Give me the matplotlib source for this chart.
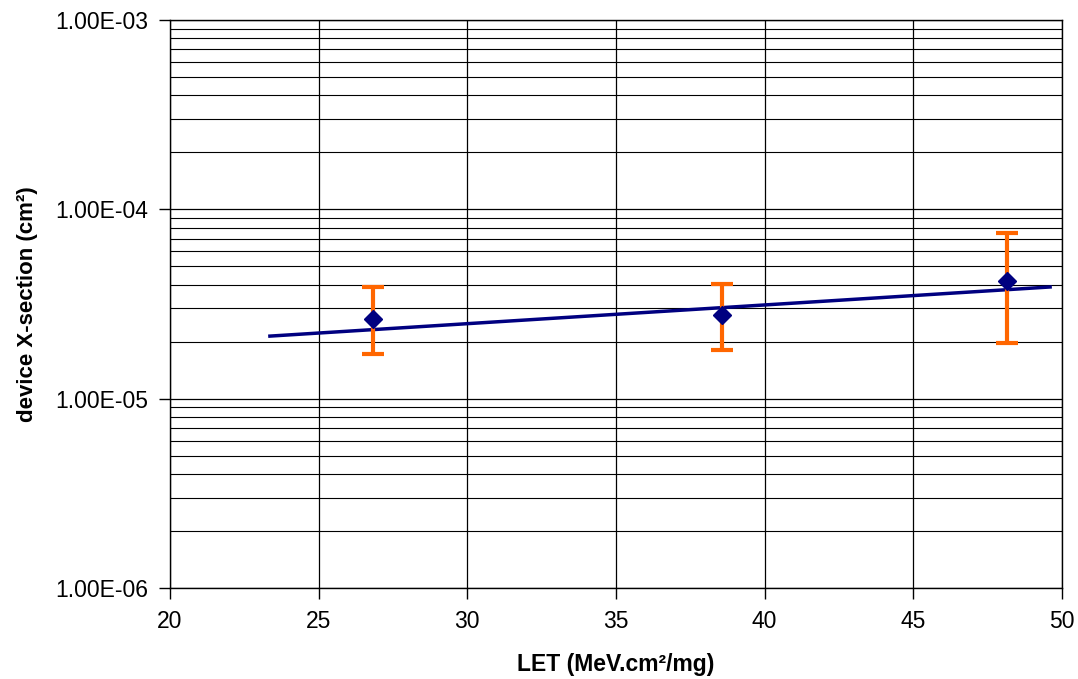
import matplotlib
matplotlib.use("Agg")
import matplotlib.pyplot as plt
import numpy as np
from matplotlib.ticker import LogLocator, FixedLocator, NullFormatter

plt.rcParams['font.family'] = ['Liberation Sans', 'DejaVu Sans']

# Data
let_values = [26.83, 38.58, 48.16]
xsection = [2.64e-5, 2.77e-5, 4.17e-5]
err_upper = [3.91e-5, 4.05e-5, 7.54e-5]
err_lower = [1.72e-5, 1.80e-5, 1.97e-5]
trend_x = [23.36, 49.6]
trend_y = [2.14e-5, 3.89e-5]

x_ticks = [20, 25, 30, 35, 40, 45, 50]
y_ticks = [1e-6, 1e-5, 1e-4, 1e-3]
y_tick_labels = ["1.00E-06", "1.00E-05", "1.00E-04", "1.00E-03"]

fig = plt.figure(figsize=(10.78, 6.79), dpi=100)
ax = fig.add_axes([170/1078, 1-588/679, (1062-170)/1078, (588-20)/679])

ax.set_yscale('log')
ax.set_xlim(20, 50)
ax.set_ylim(1e-6, 1e-3)

ax.set_xticks(x_ticks)
ax.set_xticklabels([str(v) for v in x_ticks])
ax.yaxis.set_major_locator(FixedLocator(y_ticks))
ax.set_yticklabels(y_tick_labels)
ax.yaxis.set_minor_locator(LogLocator(base=10, subs=np.arange(2, 10)))
ax.yaxis.set_minor_formatter(NullFormatter())

ax.grid(True, which='major', axis='both', color='black', linewidth=0.9)
ax.grid(True, which='minor', axis='y', color='black', linewidth=0.8)
ax.set_axisbelow(True)

ax.tick_params(axis='both', which='major', direction='out', length=8, width=1,
               labelsize=16.5, colors='black', pad=8)
ax.tick_params(axis='y', which='minor', length=0)

for s in ax.spines.values():
    s.set_color('black')
    s.set_linewidth(1)

# Trend line
ax.plot(trend_x, trend_y, color='#000080', linewidth=2.5, zorder=3)

# Error bars
yerr = [np.array(xsection) - np.array(err_lower), np.array(err_upper) - np.array(xsection)]
ax.errorbar(let_values, xsection, yerr=yerr, fmt='none', ecolor='#FF6600',
            elinewidth=3, capsize=8, capthick=3, zorder=4)
ax.plot(let_values, xsection, linestyle='none', marker='D', markersize=9,
        color='#000080', zorder=5)

ax.set_xlabel("LET (MeV.cm²/mg)", fontsize=16.5, fontweight='bold', labelpad=14)
ax.set_ylabel("device X-section (cm²)", fontsize=16, fontweight='bold', labelpad=12)

fig.savefig("out.png", dpi=100)
